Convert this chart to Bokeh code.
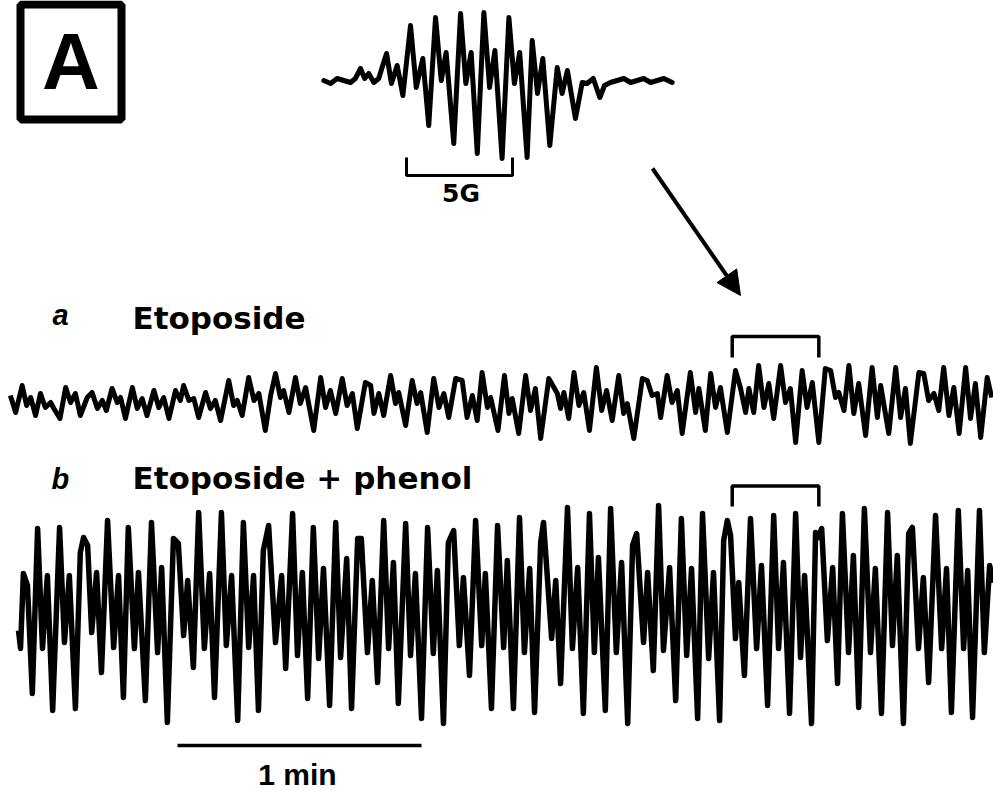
from bokeh.plotting import figure
from bokeh.models import Range1d, Label, BoxAnnotation, Arrow, NormalHead
from bokeh.embed import file_html
from bokeh.resources import INLINE

# ---------------- data ----------------
# EPR spectrum of the etoposide phenoxyl radical (field offset in G, signal in a.u.)
epr_field = [-8.24, -7.92, -7.61, -7.30, -6.98, -6.75, -6.51, -6.31, -6.12, -5.88, -5.65,
             -5.49, -5.28, -5.05, -4.78, -4.51, -4.15, -3.88, -3.57, -3.29, -2.97, -2.70,
             -2.47, -2.11, -1.79, -1.54, -1.29, -1.00, -0.69, -0.42, -0.17, 0.17, 0.49,
             0.75, 1.00, 1.35, 1.59, 1.84, 2.09, 2.42, 2.77, 3.00, 3.25, 3.63, 3.95, 4.18,
             4.47, 4.78, 5.00, 5.28, 5.60, 5.91, 6.23, 6.54, 6.85, 7.17, 7.49, 7.80, 8.19]
epr_signal = [0.0, -0.3, 0.2, 0.0, -0.2, 0.2, 1.2, 0.2, 0.7, -0.2, 0.2,
              1.3, 2.7, -0.3, 1.5, -1.5, 5.5, -0.7, 2.2, -4.5, 6.3, 0.0,
              2.8, -6.3, 6.7, -0.3, 2.8, -7.3, 6.8, -0.7, 3.0, -7.8, 6.3,
              -0.3, 2.8, -7.7, 4.0, -1.3, 2.2, -6.5, 1.3, -1.3, 1.0, -3.8, -0.2, -0.3,
              0.2, -1.7, -0.5, -0.2, 0.0, 0.2, -0.2, 0.0, 0.2, -0.2, 0.0, 0.2, -0.2]

# trace a: Etoposide (time in s, signal in a.u.)
a_time = [-2.0, -0.7, 0.9, 2.0, 3.0, 4.2, 5.4, 6.6, 7.9, 8.7, 10.2, 11.6, 12.8, 14.0, 15.2,
          16.9, 18.1, 19.4, 20.6, 21.6, 23.0, 24.3, 25.1, 26.3, 28.0, 29.2, 30.4, 31.6,
          33.3, 34.5, 35.7, 37.0, 38.6, 39.8, 40.6, 41.9, 43.1, 44.3, 46.0, 47.2, 48.4,
          49.7, 51.7, 52.9, 53.8, 55.0, 56.6, 57.9, 59.1, 60.7, 62.0, 63.2, 64.4, 65.2,
          66.5, 68.1, 69.3, 70.6, 72.6, 74.3, 75.5, 76.7, 78.0, 79.6, 80.8, 82.1, 83.3,
          85.3, 86.6, 87.4, 88.6, 89.8, 91.5, 92.7, 93.5, 95.2, 96.8, 98.0, 98.9, 100.5,
          102.1, 103.4, 104.6, 105.8, 107.5, 109.1, 110.3, 111.6, 112.8, 114.0, 115.3,
          116.1, 117.9, 119.5, 120.6, 121.4, 123.0, 124.7, 125.9, 127.1, 128.4, 130.4,
          132.5, 133.3, 134.1, 135.3, 136.6, 137.8, 139.0, 140.4, 142.1, 143.4, 144.6,
          146.0, 147.6, 148.8, 149.7, 151.3, 153.4, 154.6, 155.8, 157.1, 157.9, 159.5,
          160.7, 162.0, 163.2, 165.2, 166.5, 167.3, 168.9, 170.2, 171.4, 172.6, 174.3,
          176.3, 177.5, 178.8, 179.6, 180.8, 182.0, 183.3, 184.5, 185.7, 187.4, 188.6,
          189.8, 191.1, 192.7, 193.9, 195.2, 196.8, 198.4, 199.7, 200.9, 201.7, 203.0,
          204.2, 205.4, 206.6, 208.3, 209.9, 211.2, 212.0, 214.0, 215.7, 216.9, 218.1,
          219.3, 221.4, 222.6, 223.8, 225.1, 226.3, 227.5, 228.8, 230.0, 231.3, 232.9,
          234.1, 235.3, 236.6, 238.2, 239.3]
a_signal = [0.5, -1.2, 1.5, -0.5, 0.3, -1.5, 0.7, -0.7, -0.2, -0.8, -1.8, 1.3, -0.2, 0.7, -1.5,
            0.3, 0.8, -0.8, 0.0, -1.0, 1.2, -0.2, 0.3, -1.8, 1.3, -0.8, 0.2, -1.5,
            1.0, -0.7, 0.3, -1.8, 1.0, 0.0, 1.5, 0.0, 0.2, -1.7, 0.8, -0.8, 0.0,
            -2.0, 2.0, -0.5, 0.0, -1.5, 2.3, 0.0, 0.7, -3.0, 0.5, 2.7, 0.3, 1.0,
            -1.2, 2.3, -0.3, 1.3, -3.0, 2.3, -0.7, 1.0, -1.3, 2.2, -0.5, 0.7, -2.8,
            1.8, 1.5, -1.3, 0.7, -1.5, 2.5, -0.3, 0.8, -2.5, 2.0, -0.3, 0.8, -3.2,
            2.2, -0.7, 0.7, -1.7, 2.2, 2.0, -1.7, 0.5, -2.0, 2.8, -0.7,
            0.3, -3.0, 2.5, -1.3, 0.2, -3.3, 2.5, -1.0, 1.2, -3.8, 2.2,
            0.7, -0.8, 0.8, -1.8, 2.8, -0.5, 0.8, -3.0, 3.3, -1.0, 1.0,
            -2.0, 2.5, -1.3, -0.3, -3.8, 2.2, 2.0, 0.5, 0.7, -1.7, 2.5,
            -0.2, 1.0, -3.3, 2.8, -1.2, 1.2, -3.0, 2.7, -0.7, 1.3, -3.2,
            3.0, 1.3, -1.2, 1.2, -1.2, 3.5, -0.7, 1.7, -1.8, 3.5, -0.2,
            1.2, -4.2, 3.0, -0.7, 1.8, -4.2, 3.2, 3.0, 0.3, 0.8, -1.0,
            3.5, -1.3, 1.7, -3.5, 3.3, -1.7, 1.5, -3.3, 3.3, -1.7, 1.2,
            -4.3, 2.8, 2.7, 0.0, 0.7, -1.0, 3.3, -1.5, 1.3, -3.3, 3.3,
            -1.8, 1.7, -3.7, 2.3, 0.3]

# trace b: Etoposide + phenol (time in s, signal in a.u.)
b_time = [0.0, 0.5, 1.2, 2.2, 3.4, 4.7, 5.9, 7.1, 8.4, 10.1, 11.3, 12.5, 14.0, 15.2, 16.0,
          17.0, 18.0, 19.2, 20.4, 21.9, 23.4, 24.6, 25.8, 27.0, 28.5, 29.5, 31.2, 32.7,
          34.2, 35.2, 36.6, 38.1, 39.3, 40.6, 41.6, 43.0, 44.3, 45.7, 47.0, 48.2, 49.9,
          51.1, 52.4, 53.9, 55.3, 56.6, 57.8, 59.0, 60.2, 61.5, 63.2, 64.7, 65.7, 67.4,
          68.6, 69.8, 71.1, 72.5, 73.8, 75.0, 76.5, 78.0, 79.2, 80.7, 81.9, 83.4, 84.3,
          85.8, 87.0, 88.3, 89.8, 91.0, 92.2, 93.4, 95.2, 96.4, 97.6, 99.1, 100.6, 102.0,
          103.0, 104.5, 105.7, 107.0, 108.4, 109.4, 110.9, 112.4, 113.9, 114.8, 116.3,
          117.8, 119.3, 120.2, 121.7, 123.2, 124.4, 125.7, 126.9, 128.4, 129.1, 131.1,
          132.1, 133.3, 135.0, 136.2, 137.5, 138.9, 140.4, 141.6, 142.6, 144.3, 145.6,
          147.0, 148.3, 149.8, 151.0, 152.0, 153.7, 154.7, 156.1, 157.4, 158.6, 160.1,
          161.6, 163.0, 164.3, 165.5, 167.0, 168.2, 169.7, 170.9, 172.4, 173.4, 174.3,
          175.1, 176.3, 177.1, 178.5, 180.0, 181.5, 182.7, 184.2, 185.7, 186.9, 188.1,
          189.6, 191.1, 192.3, 193.3, 195.0, 196.0, 196.7, 197.5, 198.9, 200.2, 201.4,
          202.6, 204.1, 205.3, 206.6, 208.0, 209.5, 210.7, 212.2, 213.7, 214.9, 216.1,
          217.6, 218.9, 219.8, 221.3, 222.5, 223.8, 225.5, 227.0, 228.2, 229.4, 231.1,
          232.4, 233.4, 234.6, 236.3, 237.5, 238.8, 239.8]
b_signal = [-1.5, -3.3, 4.2, 3.0, -7.8, 8.7, -3.3, 4.0, -9.5, 8.8, -2.7, 4.0, -9.3, 6.3, 7.8,
            7.0, -1.7, 4.3, -5.7, 9.5, -3.2, 4.0, -8.2, 8.8, -3.3, 4.3, -8.5, 9.3,
            -3.7, 4.8, -10.7, 7.7, 7.2, -2.0, 3.5, -5.2, 10.3, -3.3, 4.2, -8.2, 10.3,
            -3.0, 4.0, -10.5, 9.3, -3.2, 4.0, -9.5, 6.5, 9.0, -2.7, 4.0, -5.3, 10.2,
            -4.0, 4.3, -8.3, 8.8, -4.3, 4.7, -9.0, 9.3, -4.2, 5.7, -9.3, 7.7, 7.7,
            -3.7, 3.5, -6.7, 9.5, -3.3, 5.3, -8.8, 9.2, -4.0, 4.2, -10.3, 8.8, -3.8,
            4.5, -10.8, 7.3, 8.5, -3.0, 3.8, -6.0, 9.5, -3.0, 4.2, -9.3,
            9.0, -3.2, 5.5, -9.3, 9.8, -3.7, 4.7, -9.7, 7.3, 9.3, -2.3,
            3.5, -6.8, 10.8, -3.3, 4.8, -9.8, 10.2, -3.7, 5.8, -9.5, 10.7,
            -3.7, 5.3, -10.8, 7.0, 8.2, -2.7, 4.3, -5.5, 11.0, -3.5, 4.8,
            -8.5, 9.7, -4.0, 4.7, -10.3, 10.2, -4.3, 4.3, -10.5, 7.5, 9.5,
            8.0, -2.3, 3.3, -6.0, 9.7, -3.3, 5.0, -9.0, 10.0, -3.3, 5.3,
            -9.8, 10.2, -4.2, 4.0, -10.8, 8.3, 7.8, 8.7, -2.5, 4.8, -6.8,
            10.2, -3.7, 6.0, -9.2, 10.7, -3.7, 4.7, -9.8, 10.3, -3.0, 6.0,
            -10.8, 8.2, 8.8, -3.3, 3.8, -6.7, 10.0, -3.3, 4.7, -9.7, 10.5,
            -3.3, 4.5, -10.2, 10.5, -3.7, 5.0, 3.3]

# one field scan (bracketed) and scale bars
scan_start_s = 175.5
scan_end_s = 196.8
time_bar_start_s = 39.1
time_bar_len_s = 60.0
field_bar_start_G = -4.34
field_bar_len_G = 5.0

# ---------------- figure ----------------
W, H = 993, 790
p = figure(width=W, height=H, x_range=Range1d(0, W), y_range=Range1d(H, 0),
           x_axis_type=None, y_axis_type=None, toolbar_location=None,
           output_backend="svg", min_border=0)
p.outline_line_color = None
p.background_fill_color = "white"
p.border_fill_color = "white"

p.extra_x_ranges = {"time": Range1d(-4.426, 239.75), "field": Range1d(-23.49, 23.349)}
p.extra_y_ranges = {"sigE": Range1d(-71.0, 8.0), "sigA": Range1d(-39.0, 40.0),
                    "sigB": Range1d(-17.5, 61.5)}

# EPR spectrum
p.line(epr_field, epr_signal, x_range_name="field", y_range_name="sigE",
       line_color="black", line_width=5, line_join="round", line_cap="round")
# 5G scale bracket
p.line([field_bar_start_G, field_bar_start_G, field_bar_start_G + field_bar_len_G,
        field_bar_start_G + field_bar_len_G], [157, 175, 175, 157],
       x_range_name="field", line_color="black", line_width=3)

# time traces
p.line(a_time, a_signal, x_range_name="time", y_range_name="sigA",
       line_color="black", line_width=5, line_join="round")
p.line(b_time, b_signal, x_range_name="time", y_range_name="sigB",
       line_color="black", line_width=5.5, line_join="round")

# scan brackets
p.line([scan_start_s, scan_start_s, scan_end_s, scan_end_s], [4.3, 6.4, 6.4, 4.3],
       x_range_name="time", y_range_name="sigA", line_color="black", line_width=3.5)
p.line([scan_start_s, scan_start_s, scan_end_s, scan_end_s], [10.9, 12.95, 12.95, 10.9],
       x_range_name="time", y_range_name="sigB", line_color="black", line_width=3.5)

# 1 min bar
p.line([time_bar_start_s, time_bar_start_s + time_bar_len_s], [745, 745],
       x_range_name="time", line_color="black", line_width=3.5)

# arrow
p.add_layout(Arrow(end=NormalHead(size=24, fill_color="black", line_color="black"),
                   x_start=652, y_start=168, x_end=740, y_end=295,
                   line_color="black", line_width=4))

# panel box "A"
p.add_layout(BoxAnnotation(left=20, right=121, top=4, bottom=119,
                           fill_alpha=0, line_color="black", line_alpha=1.0,
                           line_width=8))

sans = "Liberation Sans"
wide = "DejaVu Sans"
labels = [
    dict(x=70.5, y=61, text="A", text_font=sans, text_font_size="80px",
         text_font_style="bold", text_align="center"),
    dict(x=52, y=314, text="a", text_font=sans, text_font_size="29px",
         text_font_style="bold italic", text_align="left"),
    dict(x=132, y=317, text="Etoposide", text_font=wide, text_font_size="31px",
         text_font_style="bold", text_align="left"),
    dict(x=51, y=478, text="b", text_font=sans, text_font_size="29px",
         text_font_style="bold italic", text_align="left"),
    dict(x=132, y=477, text="Etoposide + phenol", text_font=wide, text_font_size="31px",
         text_font_style="bold", text_align="left"),
    dict(x=460.5, y=193, text="5G", text_font=wide, text_font_size="25px",
         text_font_style="bold", text_align="center"),
    dict(x=297, y=774, text="1 min", text_font=sans, text_font_size="30px",
         text_font_style="bold", text_align="center"),
]
for kw in labels:
    p.add_layout(Label(text_baseline="middle", text_color="black", **kw))

html = file_html(p, INLINE)
with open("out.html", "w") as f:
    f.write(html)
